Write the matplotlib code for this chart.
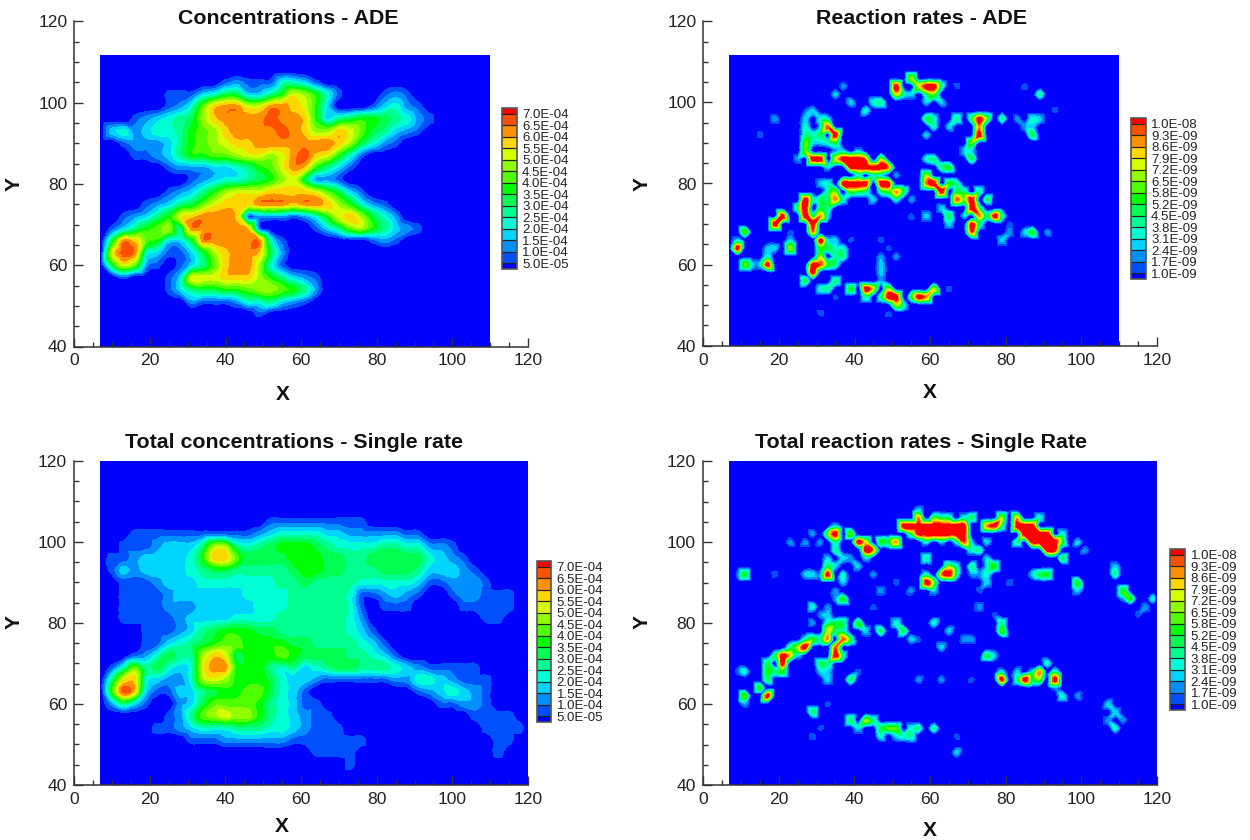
"""Four contour panels: concentrations and reaction rates, ADE vs single rate."""

import numpy as np
import matplotlib
matplotlib.use("Agg")
import matplotlib.pyplot as plt
import matplotlib.tri as mtri

plt.rcParams["font.family"] = ["Liberation Sans", "DejaVu Sans"]

FIG_W, FIG_H = 1250, 840

conc_levels = [5.0e-05, 1.0e-04, 1.5e-04, 2.0e-04, 2.5e-04, 3.0e-04, 3.5e-04,
               4.0e-04, 4.5e-04, 5.0e-04, 5.5e-04, 6.0e-04, 6.5e-04, 7.0e-04]
rate_levels = [1.0e-09, 1.7e-09, 2.4e-09, 3.1e-09, 3.8e-09, 4.5e-09, 5.2e-09,
               5.8e-09, 6.5e-09, 7.2e-09, 7.9e-09, 8.6e-09, 9.3e-09, 1.0e-08]
band_colors = ["#0000ff", "#0050ff", "#0090ff", "#00d4ff", "#00ffd4", "#00ff90",
               "#00ff50", "#00ff00", "#50ff00", "#90ff00", "#d4ff00", "#ffd700",
               "#ff9000", "#ff5000", "#ff0000"]

# band index (hex digit) every 3 units, x from 7, y from 108 down
ade_conc_rows = [
    "00000 00000 00000 00000 00000 00000 0",
    "00000 00000 01211 14431 00000 00000 0",
    "00000 01113 46633 57a97 41000 12100 0",
    "00000 01248 bccaa ccba7 30001 34210 0",
    "00012 34569 bcccc dccb7 35677 65421 0",
    "03423 44578 9bccc cdcb9 9ba86 53210 0",
    "00122 23578 9abbc ccccc cb964 21000 0",
    "00011 23577 889aa 9acdb a7410 00000 0",
    "00000 01222 33457 8acb7 53100 00000 0",
    "00000 00012 34456 79a62 21000 00000 0",
    "00000 01235 79aaa bbbba 86310 00000 0",
    "00001 23568 abbbc ccbcc b9742 10000 0",
    "00123 57abc ccb12 22124 7ab96 42000 0",
    "01357 895cc cccb1 00001 35897 53210 0",
    "06cb8 7336c ccccc 41000 00001 21000 0",
    "0adc4 31136 9bccb 62000 00000 00000 0",
    "06a82 10135 8bcc9 41000 00000 00000 0",
    "00100 013aa abbb9 75321 00000 00000 0",
    "00000 01356 67789 98752 00000 00000 0",
    "00000 00021 11244 53210 00000 00000 0",
    "00000 00000 00001 00000 00000 00000 0",
    "00000 00000 00000 00000 00000 00000 0",
]

single_conc_rows = [
    "00000 00000 00000 00000 00000 00000 00000 000",
    "00000 00000 00000 11111 11110 00000 00000 000",
    "00011 11111 11112 34444 33222 22110 00000 000",
    "00111 23335 99545 67776 54444 55442 21000 000",
    "01123 33347 bb866 66777 66556 66664 32100 000",
    "01323 33345 66555 55677 66555 66653 33210 000",
    "00111 23334 44444 45565 55544 44431 12221 000",
    "00111 12333 33344 44555 55411 23210 01221 110",
    "00111 12223 33334 44555 55410 11100 00111 110",
    "00111 11233 33444 45555 55420 00000 00001 100",
    "00001 11235 67776 65555 55431 00000 00000 000",
    "00001 13456 78877 77665 55543 10000 00000 000",
    "00012 46559 ba677 78766 66554 31000 00000 000",
    "01485 6434a cc777 54534 56655 54321 11110 000",
    "05ab4 32249 a9777 64332 11111 12244 32111 000",
    "07db3 11335 67788 64310 00000 00012 34321 000",
    "02531 00236 88887 54311 00000 00000 11221 000",
    "00000 01258 9a997 54321 10000 00000 00011 110",
    "00000 11234 44555 44321 11000 00000 00001 111",
    "00000 00011 12222 22111 11110 00000 00000 110",
    "00000 00000 00000 00001 11100 00000 00000 100",
    "00000 00000 00000 00000 00100 00000 00000 000",
    "00000 00000 00000 00000 00000 00000 00000 000",
]

# (x, y, band index) of the streaks, everything else is background
ade_rate_spots = [
    (34, 101.6, 3), (37, 103, 2), (39.6, 100.7, 3), (42, 98.7, 4), (45, 100, 4),
    (47.6, 100, 5), (50, 102.4, 10), (51.5, 103.6, 14), (54, 105.6, 9), (55, 106.5, 3),
    (57.3, 105, 10), (58.6, 104, 14), (60.4, 104.4, 14), (63.4, 104.8, 5), (67, 104.6, 1),
    (53, 101.6, 4), (61, 102.4, 8), (59, 99, 3), (60, 97, 6), (61.7, 97, 4),
    (60, 95, 5), (61.7, 93.5, 4), (60, 91.7, 3), (66, 96, 5), (65, 94, 3),
    (70.6, 96, 6), (73, 96, 14), (75.7, 96.2, 8), (79.3, 97, 5), (73.5, 94, 12),
    (73, 91.3, 14), (72, 89.7, 8), (72, 88.4, 3), (86, 96.6, 4), (89, 96.8, 3),
    (92.5, 97.9, 1), (86, 92.5, 6), (87, 94.6, 3), (84.6, 93.4, 2), (83, 96.6, 2),
    (88.5, 102.4, 5), (85.5, 103.4, 1), (70, 89, 2), (27.3, 96, 3), (30, 95.8, 3),
    (27.3, 93.8, 4), (30, 94, 3), (33, 93.4, 13), (34, 92, 14), (27.3, 91.7, 5),
    (30.4, 91.7, 6), (34.4, 90.5, 6), (20, 95.4, 2), (27.3, 98.3, 1), (15.4, 92, 1),
    (26.4, 89.4, 8), (27.3, 87.2, 8), (29.5, 86.4, 14), (30.8, 86, 14), (24.7, 85.8, 2),
    (34.8, 86, 10), (37, 85.6, 14), (38.8, 85, 14), (40.5, 84.3, 14), (42.3, 84.5, 14),
    (44, 84, 14), (45.8, 84, 14), (47.6, 83.5, 14), (47, 86.8, 9), (46, 85, 10),
    (50, 82.7, 2), (33, 85, 3), (33.5, 80.6, 4), (36, 78.6, 8), (38.8, 80.2, 14),
    (41, 80.2, 14), (44, 80.6, 12), (47, 79.6, 14), (49.3, 79.6, 14), (51.5, 78.6, 12),
    (53.7, 77.5, 6), (55, 76, 2), (41.5, 77.8, 6), (30, 79, 3), (46.7, 78.2, 5),
    (26.9, 74, 14), (27.8, 75, 14), (25, 73.7, 6), (30.4, 75.3, 6), (34, 75.5, 12),
    (32.6, 77, 5), (27.3, 72.9, 14), (30.4, 72, 12), (29.5, 70, 14), (29.5, 68.8, 12),
    (30.7, 66.3, 14), (30.4, 63.9, 7), (33.5, 72.5, 3), (33.5, 63, 6), (37, 64.7, 4),
    (37, 61.4, 5), (34.4, 61.4, 5), (31.3, 61.8, 9), (31.3, 59.8, 13), (33, 59.8, 7),
    (28.2, 59, 14), (28.2, 57.7, 14), (26.9, 56.9, 6), (35.4, 65.5, 3), (38.8, 65.7, 1),
    (26.9, 55, 3), (30, 54.7, 4), (32.6, 54.8, 5), (35.4, 55.4, 5), (38, 54.8, 5),
    (40, 54.7, 7), (42.3, 54.7, 14), (44, 54, 14), (45.8, 53.4, 10), (48.4, 53.2, 9),
    (49.8, 52.4, 14), (52, 52.4, 14), (50.2, 50.7, 9), (53.8, 50.3, 4), (55, 52.4, 6),
    (57.3, 53, 14), (59, 53, 12), (61.2, 53.6, 10), (61.2, 54.8, 6), (49.3, 48.3, 1),
    (35.2, 52.8, 1), (31.7, 49, 1), (46.7, 65.9, 1), (46.2, 62.6, 2), (46.7, 60.4, 3),
    (46.2, 58.8, 3), (46.7, 56.9, 2), (51.5, 62.6, 2), (48.5, 64.3, 1), (64.3, 53.4, 1),
    (10.4, 67.5, 8), (9.7, 65.5, 3), (9.4, 63, 14), (10, 60.6, 8), (12.8, 60, 3),
    (14.5, 59, 3), (17, 60.2, 14), (16.7, 61.8, 4), (17.6, 64.7, 3), (19.8, 63.8, 3),
    (22.5, 63.8, 9), (23.3, 65.5, 3), (22.9, 67, 1), (20.7, 71.6, 14), (20, 70, 14),
    (59, 85.2, 4), (59.5, 82.7, 9), (61.7, 86.4, 5), (65, 84.8, 7), (62.5, 84.8, 5),
    (70.5, 85.6, 6), (69, 87.6, 3), (60, 80, 12), (61.7, 79.4, 14), (63.5, 78.6, 14),
    (65, 79, 7), (68, 80.2, 5), (68, 75.6, 13), (71.4, 75.3, 14), (71.4, 77, 9),
    (69.6, 77.8, 5), (73.2, 72.8, 12), (71.8, 74, 14), (76.2, 72.5, 14), (77.5, 71.7, 14),
    (71.4, 70.6, 14), (71.4, 68.5, 13), (66, 76, 3), (58, 72, 3), (62.5, 73.5, 3),
    (65, 71.6, 6), (65, 70, 3), (55.5, 73, 1), (75, 75, 4), (80, 66.3, 3),
    (81.5, 68, 2), (84.6, 67, 3), (86.3, 68, 5), (87.7, 67.5, 7), (91.6, 67.5, 2),
    (81, 70.4, 1),
    # wider parts of the red bands and the clouds round them
    (37, 86, 14), (39, 86, 14), (41, 86, 14), (43, 86, 12), (39, 84, 14), (41, 84, 14),
    (43, 84, 14), (45, 84, 14), (47, 84, 14), (49, 84, 12), (41, 82, 4), (45, 82, 4),
    (47, 82, 3), (37, 88, 3), (41, 88, 3), (37, 80, 14), (39, 80, 14), (41, 80, 14),
    (43, 80, 14), (39, 78, 7), (29, 98, 3), (31, 96, 4), (33, 96, 3), (29, 92, 4),
    (31, 92, 5), (31, 90, 3), (33, 90, 4), (35, 88, 2), (29, 90, 3), (73, 74, 6),
    (75, 76, 6), (73, 78, 5), (75, 72, 5), (69, 73, 3), (79, 71, 5), (73, 70, 5),
    (67, 78, 6), (69, 76, 8), (33, 78, 5), (35, 76, 6), (37, 76, 4), (43, 78, 5),
    (45, 76, 3), (49, 78, 7), (51, 76, 4), (29, 72, 5), (31, 74, 6), (33, 74, 5),
    (29, 76, 4), (33, 66, 3), (35, 63, 4), (37, 63, 4), (33, 60, 6), (35, 60, 5),
    (44, 52, 5), (48, 51, 5), (52, 50, 5), (56, 51, 4), (60, 52, 5), (56, 102, 3),
    (59, 102, 5), (62, 100, 3), (58, 96, 3),
]

single_rate_spots = [
    (50.4, 100.8, 12), (52.2, 103.3, 14), (54.5, 105, 14), (56.9, 105.3, 12), (56.9, 103.3, 14),
    (58.7, 103.7, 14), (60.6, 105, 14), (62.4, 104, 14), (64.3, 104.5, 14), (66, 103.7, 14),
    (68, 103.7, 14), (69.8, 104, 14), (59.6, 102.5, 14), (62.4, 102.5, 12), (69.4, 101, 13),
    (71, 105.7, 6), (56.9, 107, 3), (54, 101.2, 6), (47.6, 99.2, 7), (49, 100.8, 6),
    (75.4, 103.7, 12), (77.8, 105, 14), (78.8, 105.7, 9), (82, 105.9, 11), (80, 103.7, 6),
    (82.8, 103.7, 14), (85, 103.7, 14), (86.5, 103.3, 14), (88, 102, 14), (89.3, 101.2, 14),
    (90.7, 100, 14), (92, 99.2, 14), (93.5, 98.4, 14), (89.3, 102.9, 14), (91, 101.2, 14),
    (87.5, 100.4, 14), (95, 99.6, 7), (94, 97, 6), (101.4, 98.4, 2), (98, 99, 3),
    (71.7, 100.8, 3), (73, 98.4, 5), (75.4, 96.3, 3), (77.3, 94.7, 7), (70, 94.7, 5),
    (82.4, 100.4, 5), (33.7, 102.4, 8), (36, 102.9, 14), (34, 100, 5), (34, 98.4, 5),
    (33.7, 96.3, 3), (39.2, 102.9, 6), (40.6, 100.4, 14), (42, 98.4, 14), (44.3, 98.4, 12),
    (29, 102.4, 2), (27.2, 100.4, 2), (24, 100.4, 2), (33.2, 92.6, 14), (33.7, 91, 12),
    (35.5, 94.3, 3), (36.5, 90.2, 3), (26.7, 91.8, 3), (41, 94.3, 3), (45.3, 92.6, 2),
    (11, 91.8, 7), (8.6, 92.4, 1), (19.8, 92.2, 1), (29.5, 85, 4), (37, 85.5, 7),
    (34, 87.3, 2), (44.3, 84.8, 1), (31.8, 82.4, 2), (33.2, 80, 5), (37.9, 80.2, 6),
    (40.6, 79, 7), (47, 78.7, 6), (50.4, 79, 4), (53.2, 77.6, 6), (32.8, 78.3, 10),
    (36.5, 77.5, 5), (33.2, 76.2, 12), (29, 79, 2), (55, 75.4, 3), (42, 77.5, 3),
    (17.4, 70, 6), (20.7, 70, 14), (20.9, 71.7, 14), (23.5, 72.7, 11), (25.3, 74.2, 9),
    (27.2, 74.2, 14), (29, 75.4, 7), (34.1, 72.5, 14), (35.5, 73.4, 13), (37, 75.2, 13),
    (31, 70.9, 6), (32.8, 68.4, 3), (33.7, 66, 3), (39.2, 66.2, 6), (41, 68.9, 1),
    (11, 68, 4), (17, 68, 7), (16.5, 66, 6), (16, 64.7, 7), (16.3, 62.3, 14),
    (10, 62.9, 8), (10, 60.7, 2), (9, 68.4, 1), (61.5, 79, 4), (65, 78.7, 3),
    (56.9, 75, 1), (63.4, 73.8, 3), (68.5, 75.7, 2), (70.8, 76.2, 2), (75.4, 73, 6),
    (78.2, 80, 5), (79, 78.3, 8), (73.6, 83.6, 2), (76.3, 82.4, 1), (77.3, 71.7, 3),
    (59.2, 95.7, 5), (59.2, 92.6, 4), (59.6, 89.3, 14), (61.5, 90.2, 8), (63.8, 91.4, 12),
    (64.3, 92.2, 14), (65.7, 93.9, 8), (67, 94.7, 4), (58.3, 89.3, 6), (55.5, 88.9, 2),
    (50, 89.8, 1), (47.6, 87.3, 2), (73.6, 91.4, 2), (72.6, 89, 1), (89.3, 93, 6),
    (91, 92.6, 7), (87, 91.8, 3), (89.3, 91, 2), (98.6, 89.6, 7), (99.5, 87.7, 3),
    (108.5, 94.7, 3), (108.5, 91, 5), (111.3, 87.7, 7), (113.7, 86.5, 7), (111.4, 85.2, 2),
    (119.5, 85.9, 4), (117.2, 83.2, 2), (114.4, 82.8, 1), (81, 89.3, 1), (78.2, 66.8, 6),
    (80, 65.8, 14), (82.4, 66, 5), (84.2, 66.1, 14), (86, 66.1, 6), (88.4, 66.6, 8),
    (89.8, 66, 5), (88.4, 68.9, 12), (91, 69.3, 4), (93.5, 66.8, 14), (93, 68.4, 5),
    (92.6, 64.4, 2), (95, 62.7, 4), (98, 62.3, 2), (39.2, 55.3, 6), (42, 55.7, 9),
    (44.8, 55.3, 5), (47.6, 54.5, 6), (49.4, 54.5, 8), (51.3, 54.5, 8), (52.2, 52.5, 4),
    (55, 53.7, 4), (57.8, 53.7, 5), (60.6, 54.5, 5), (28.6, 57.8, 6), (32.7, 60.2, 1),
    (29, 52.9, 1), (31.8, 54.9, 1), (57.8, 66.8, 2), (62.4, 66, 2), (70, 66.8, 1),
    (68, 48.8, 3), (66, 52, 1), (108, 60.2, 3), (109.3, 57.8, 3), (106, 55.7, 2),
    (108.8, 54.9, 4), (110, 55.3, 2),
    # wider parts of the red bands and the clouds round them
    (57, 102, 14), (59, 102, 14), (61, 102, 14), (63, 102, 14), (65, 102, 14), (67, 102, 14),
    (69, 102, 14), (59, 104, 14), (61, 104, 14), (63, 104, 14), (65, 104, 14), (67, 104, 14),
    (69, 104, 14), (61, 106, 7), (63, 106, 5), (65, 106, 5), (69, 106, 4), (59, 100, 4),
    (63, 100, 3), (67, 100, 4), (85, 104, 14), (87, 104, 14), (85, 102, 14), (87, 102, 14),
    (89, 102, 14), (91, 102, 14), (87, 100, 14), (89, 100, 14), (91, 100, 14), (93, 100, 14),
    (91, 98, 14), (93, 98, 14), (89, 106, 4), (95, 102, 4), (34, 104, 3), (32, 100, 2),
    (33, 94, 6), (37, 92, 4), (37, 96, 3), (31, 92, 2), (29, 92, 3), (40, 102, 8),
    (42, 100, 10), (44, 96, 3), (40, 96, 2), (31, 76, 5), (33, 78, 7), (35, 78, 5),
    (33, 82, 3), (35, 80, 6), (35, 74, 6), (33, 70, 5), (31, 68, 3), (37, 72, 5),
    (39, 76, 6), (33, 84, 2), (29, 84, 3), (35, 86, 2), (19, 72, 5), (23, 74, 5),
    (27, 76, 4), (25, 72, 3), (19, 68, 5), (21, 68, 7), (78, 68, 3), (82, 68, 3),
    (86, 68, 3), (90, 70, 4), (41, 54, 3), (46, 53, 4), (50, 52, 3), (53, 52, 3),
    (56, 52, 5), (61, 88, 3), (63, 93, 3), (66, 91, 5), (60, 92, 2), (74, 90, 3),
    (74, 94, 3), (76, 92, 4), (71, 98, 4), (75, 100, 3), (72, 92, 2),
]


def band_values(levels):
    """Value standing for each band index: the middle of that band."""
    levels = np.array(levels)
    mids = (levels[:-1] + levels[1:]) / 2
    return np.r_[0.0, mids, levels[-1] * 1.1]


def grid_from_rows(rows, levels, x_end, y_end):
    codes = np.array([[int(c, 16) for c in r.replace(" ", "")] for r in rows])
    z = band_values(levels)[codes]
    # plain background up to the edge of the domain
    z = np.pad(z, ((1, 1), (0, 1)))
    x = np.r_[7 + 3.0 * np.arange(codes.shape[1]), x_end]
    y = np.r_[y_end, 108 - 3.0 * np.arange(codes.shape[0]), 40]
    return x, y, z


def grid_from_spots(spots, levels, x_end, y_end):
    x = np.r_[np.arange(7, x_end, 2.0), x_end]
    y = np.r_[np.arange(40, y_end, 2.0), y_end]
    z = np.zeros((len(y), len(x)))
    vals = band_values(levels)
    for sx, sy, code in spots:
        ix = int(round((sx - 7) / 2))
        iy = int(round((sy - 40) / 2))
        z[iy, ix] = max(z[iy, ix], vals[code])
    return x, y, z


def px_rect(left, top, right, bottom):
    return [left / FIG_W, 1 - bottom / FIG_H, (right - left) / FIG_W, (bottom - top) / FIG_H]


def draw_panel(fig, grid, levels, rect, cbar_rect, title, title_xy, xlabel_xy, ylabel_xy):
    x, y, z = grid
    ax = fig.add_axes(px_rect(*rect))
    # rounder band edges than the raw grid gives
    xx, yy = np.meshgrid(x, y)
    tri = mtri.Triangulation(xx.ravel(), yy.ravel())
    interp = mtri.CubicTriInterpolator(tri, z.ravel(), kind="geom")
    fine_tri, fine_z = mtri.UniformTriRefiner(tri).refine_field(z.ravel(), triinterpolator=interp, subdiv=2)
    cf = ax.tricontourf(fine_tri, fine_z, levels=levels, colors=band_colors, extend="both")
    ax.set_xlim(0, 120)
    ax.set_ylim(40, 120)
    ax.set_xticks(range(0, 121, 20))
    ax.set_yticks(range(40, 121, 20))
    ax.set_xticks(range(0, 121, 5), minor=True)
    ax.set_yticks(range(40, 121, 5), minor=True)
    ax.tick_params(which="major", direction="in", length=6.5, width=1, color="#333333",
                   labelsize=12.6, labelcolor="#222222", pad=5)
    ax.tick_params(which="minor", direction="in", length=3.6, width=1, color="#333333")
    for side in ["top", "right"]:
        ax.spines[side].set_visible(False)
    for side in ["left", "bottom"]:
        ax.spines[side].set_color("#333333")
        ax.spines[side].set_linewidth(1.1)

    cax = fig.add_axes(px_rect(*cbar_rect))
    cb = fig.colorbar(cf, cax=cax, drawedges=True, extendrect=True, extendfrac=0.038,
                      ticks=levels, format="%.1E")
    cb.ax.tick_params(length=0, labelsize=9.5, labelcolor="#222222", pad=4)
    cb.outline.set_edgecolor("#555555")
    cb.outline.set_linewidth(1.2)
    cb.dividers.set_color("#222222")
    cb.dividers.set_linewidth(0.9)
    cb.ax.minorticks_off()

    fig.text(title_xy[0] / FIG_W, 1 - title_xy[1] / FIG_H, title, ha="center", va="center",
             fontsize=15.4, fontweight="bold", color="#111111")
    fig.text(xlabel_xy[0] / FIG_W, 1 - xlabel_xy[1] / FIG_H, "X", ha="center", va="center",
             fontsize=15, fontweight="bold", color="#111111")
    fig.text(ylabel_xy[0] / FIG_W, 1 - ylabel_xy[1] / FIG_H, "Y", ha="center", va="center",
             rotation=90, fontsize=15, fontweight="bold", color="#111111")


fig = plt.figure(figsize=(FIG_W / 100, FIG_H / 100), dpi=100)
fig.patch.set_facecolor("white")

draw_panel(fig, grid_from_rows(ade_conc_rows, conc_levels, 109.8, 111.5), conc_levels,
           (74.3, 21.3, 528, 346.5), (502, 108, 516.5, 269),
           "Concentrations - ADE", (288, 19), (283, 395), (14, 184))
draw_panel(fig, grid_from_spots(ade_rate_spots, rate_levels, 109.8, 111.5), rate_levels,
           (703.3, 21.3, 1157, 345.7), (1131, 118, 1145.5, 279),
           "Reaction rates - ADE", (922, 19), (930, 393), (642, 184))
draw_panel(fig, grid_from_rows(single_conc_rows, conc_levels, 120, 120), conc_levels,
           (74, 460.7, 528, 785), (537, 561, 551, 722),
           "Total concentrations - Single rate", (294, 443), (282, 827), (14, 622))
draw_panel(fig, grid_from_spots(single_rate_spots, rate_levels, 120, 120), rate_levels,
           (703, 461, 1157, 785), (1170, 549, 1185, 710),
           "Total reaction rates - Single Rate", (921, 443), (930, 831), (642, 622))

fig.savefig("out.png", dpi=100, facecolor="white")
plt.close(fig)
